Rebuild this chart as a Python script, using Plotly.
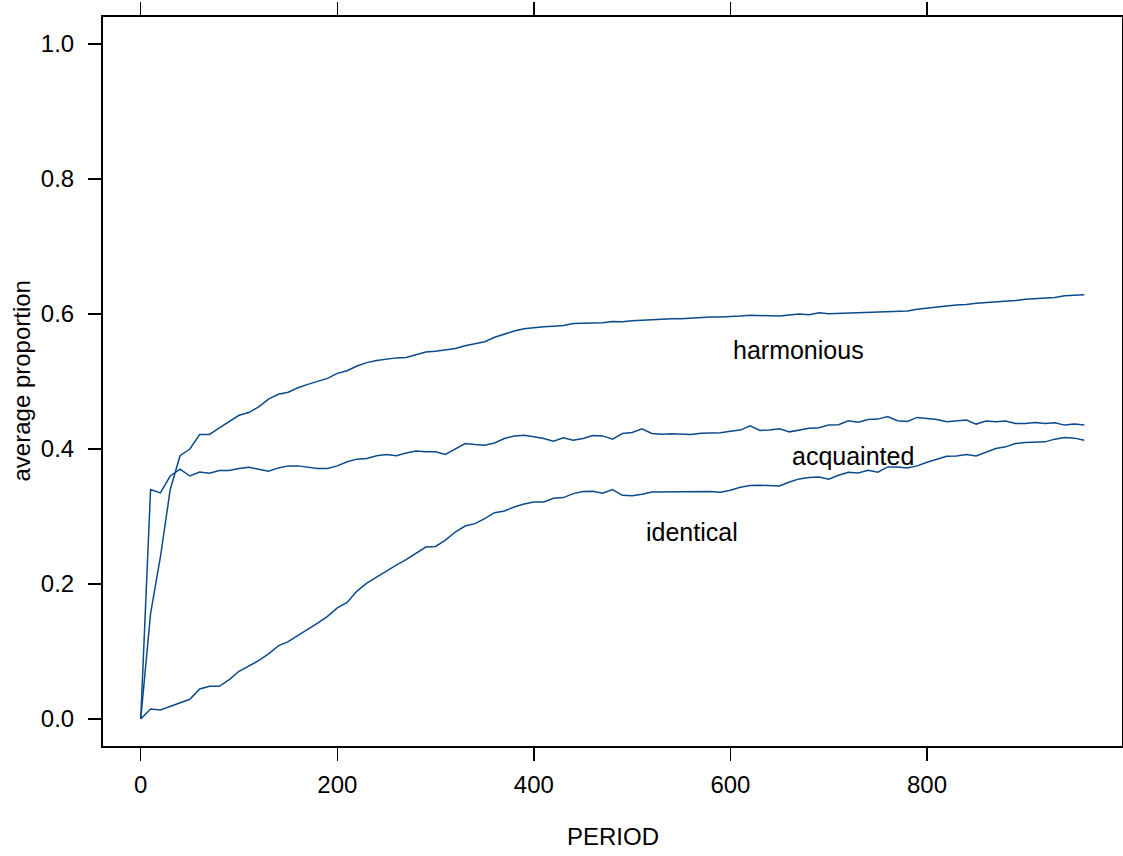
import plotly.graph_objects as go

period = list(range(0, 970, 10))

harmonious = [
    0.0, 0.156, 0.24, 0.34, 0.39, 0.40, 0.4215, 0.4215, 0.4313, 0.441,
    0.450, 0.454, 0.4625, 0.474, 0.481, 0.484, 0.4907, 0.4957, 0.5006, 0.5046,
    0.512, 0.516, 0.523, 0.528, 0.531, 0.5335, 0.535, 0.5355, 0.540, 0.5436,
    0.545, 0.5466, 0.549, 0.553, 0.5555, 0.559, 0.5655, 0.570, 0.5748, 0.578,
    0.580, 0.5812, 0.582, 0.583, 0.586, 0.5866, 0.5866, 0.587, 0.589, 0.5885,
    0.590, 0.591, 0.592, 0.5925, 0.593, 0.593, 0.594, 0.595, 0.5957, 0.5957,
    0.596, 0.597, 0.598, 0.5977, 0.597, 0.597, 0.5986, 0.600, 0.599, 0.602,
    0.6005, 0.601, 0.601, 0.602, 0.6025, 0.6025, 0.604, 0.6045, 0.6045, 0.607,
    0.609, 0.610, 0.612, 0.6135, 0.614, 0.616, 0.617, 0.6175, 0.618, 0.620,
    0.622, 0.623, 0.624, 0.6245, 0.627, 0.6278, 0.6287,
]

acquainted = [
    0.0, 0.34, 0.335, 0.36, 0.37, 0.36, 0.366, 0.364, 0.368, 0.368,
    0.371, 0.373, 0.37, 0.367, 0.372, 0.375, 0.375, 0.373, 0.371, 0.371,
    0.375, 0.381, 0.385, 0.386, 0.39, 0.392, 0.39, 0.394, 0.397, 0.396,
    0.396, 0.392, 0.400, 0.408, 0.4066, 0.4056, 0.409, 0.4155, 0.4194, 0.4204,
    0.418, 0.4155, 0.4115, 0.4165, 0.413, 0.4155, 0.420, 0.4194, 0.4145, 0.423,
    0.4244, 0.4298, 0.423, 0.422, 0.4225, 0.4225, 0.4215, 0.4235, 0.424, 0.424,
    0.4264, 0.428, 0.4345, 0.4275, 0.428, 0.430, 0.4254, 0.4284, 0.4309, 0.4314,
    0.4354, 0.4359, 0.4418, 0.4398, 0.4438, 0.4443, 0.4482, 0.4418, 0.4408, 0.4468,
    0.4458, 0.4438, 0.4403, 0.4413, 0.4428, 0.4369, 0.4413, 0.4403, 0.4413, 0.4379,
    0.4379, 0.4394, 0.4379, 0.4389, 0.4354, 0.4369, 0.4354,
]

identical = [
    0.0, 0.0148, 0.0134, 0.0188, 0.0243, 0.0292, 0.0445, 0.0485, 0.0485, 0.0584,
    0.0707, 0.078, 0.0865, 0.0964, 0.1083, 0.1147, 0.1236, 0.132, 0.142, 0.152,
    0.1647, 0.1726, 0.1895, 0.2013, 0.2102, 0.220, 0.228, 0.236, 0.2458, 0.2547,
    0.2557, 0.265, 0.277, 0.2859, 0.2894, 0.2968, 0.3057, 0.3082, 0.3141, 0.3186,
    0.3215, 0.3215, 0.327, 0.328, 0.3339, 0.3369, 0.3374, 0.3344, 0.3398, 0.3314,
    0.3309, 0.3329, 0.3364, 0.3364, 0.3364, 0.3364, 0.3369, 0.3374, 0.3369, 0.3359,
    0.3388, 0.3433, 0.3458, 0.3463, 0.3458, 0.3453, 0.3512, 0.3557, 0.3577, 0.3586,
    0.3552, 0.3611, 0.3656, 0.3646, 0.3685, 0.3656, 0.3735, 0.3735, 0.372, 0.375,
    0.3804, 0.3844, 0.3893, 0.3898, 0.3918, 0.3898, 0.3958, 0.4007, 0.4032, 0.4082,
    0.4096, 0.4106, 0.4106, 0.4146, 0.4171, 0.4161, 0.4131,
]

labels = ["harmonious", "acquainted", "identical"]
label_x = [669, 725, 561]
label_y = [0.547, 0.389, 0.2765]

x_ticks = [0, 200, 400, 600, 800]
y_ticks = [0.0, 0.2, 0.4, 0.6, 0.8, 1.0]
y_tick_text = ["0.0", "0.2", "0.4", "0.6", "0.8", "1.0"]

x_title = "PERIOD"
y_title = "average proportion"

line_color = "#0b4a8b"
font_family = "Liberation Sans, Arial, Helvetica, sans-serif"

fig = go.Figure()
for name, ys in zip(labels, [harmonious, acquainted, identical]):
    fig.add_trace(go.Scatter(x=period, y=ys, mode="lines", name=name,
                             line=dict(color=line_color, width=1.5),
                             showlegend=False, hoverinfo="skip"))

for t, lx, ly in zip(labels, label_x, label_y):
    fig.add_annotation(x=lx, y=ly, xref="x", yref="y", text=t, showarrow=False,
                       font=dict(family=font_family, size=25, color="black"),
                       xanchor="center", yanchor="middle")

# axis titles
fig.add_annotation(x=0.5, y=0, xref="paper", yref="paper", yshift=-90,
                   text=x_title, showarrow=False, xanchor="center", yanchor="middle",
                   font=dict(family=font_family, size=24, color="black"))
fig.add_annotation(x=0, y=0.5, xref="paper", yref="paper", xshift=-82,
                   text=y_title, showarrow=False, textangle=-90,
                   xanchor="center", yanchor="middle",
                   font=dict(family=font_family, size=24, color="black"))

xr = [-38.4, 998.4]
yr = [-0.04, 1.04]

fig.update_layout(
    width=1123, height=856,
    margin=dict(l=103, r=1, t=17, b=110),
    paper_bgcolor="white", plot_bgcolor="white",
    font=dict(family=font_family, size=24, color="black"),
    xaxis=dict(range=xr, tickvals=x_ticks, ticktext=[str(v) for v in x_ticks],
               ticks="outside", ticklen=13, tickwidth=1.3, tickcolor="black",
               showline=True, linecolor="black", linewidth=2, mirror="ticks",
               showgrid=False, zeroline=False, automargin=False,
               ticklabelstandoff=3,
               tickfont=dict(size=24, family=font_family)),
    yaxis=dict(range=yr, tickvals=y_ticks, ticktext=y_tick_text,
               ticks="outside", ticklen=13, tickwidth=1.3, tickcolor="black",
               showline=True, linecolor="black", linewidth=2, mirror=True,
               showgrid=False, zeroline=False, automargin=False,
               ticklabelstandoff=9,
               tickfont=dict(size=24, family=font_family)),
)

fig.write_html(
    "out.html",
    config={"displayModeBar": False, "staticPlot": True},
    post_script="document.body.style.margin='0';document.body.style.overflow='hidden';",
)
